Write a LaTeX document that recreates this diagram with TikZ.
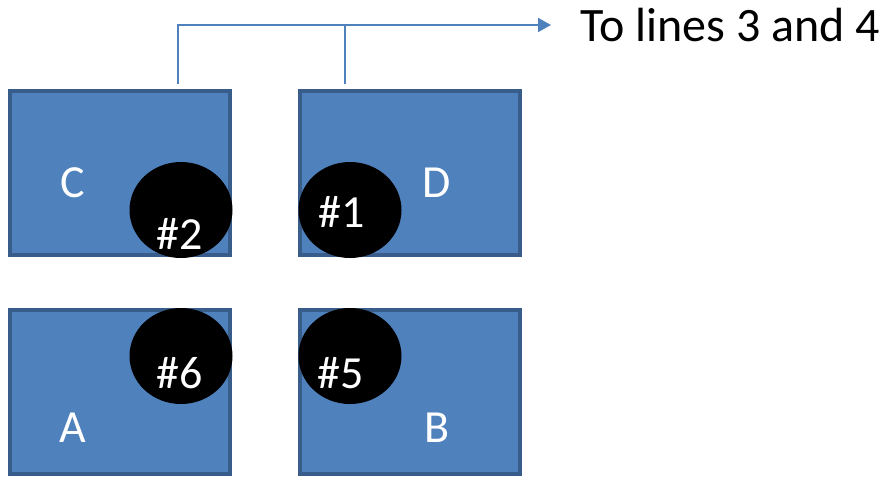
\documentclass[tikz,border=0pt]{standalone}
\usepackage{fontspec}
\setmainfont{Carlito}
\usetikzlibrary{arrows.meta,shapes.geometric}
\definecolor{boxfill}{HTML}{4F81BD}
\definecolor{boxedge}{HTML}{385D8A}
\definecolor{linkblue}{HTML}{4F81BD}
\tikzset{
  cell/.style={rectangle, draw=boxedge, line width=4.5pt, fill=boxfill,
    minimum width=220pt, minimum height=164pt, inner sep=0pt},
  spot/.style={ellipse, fill=black, minimum width=103pt, minimum height=96pt, inner sep=0pt},
  lbl/.style={text=white, font=\fontsize{46}{50}\selectfont, inner sep=0pt},
  feed/.style={draw=linkblue, line width=1.8pt},
}
\begin{document}
\begin{tikzpicture}[x=1pt,y=-1pt]
\useasboundingbox (0,0) rectangle (885,477);
% four cells
\node[cell] (C) at (120,173) {};
\node[cell] (D) at (410,173) {};
\node[cell] (A) at (120,392) {};
\node[cell] (B) at (410,392) {};
% black spots
\node[spot] (s2) at (181,210) {};
\node[spot] (s1) at (350,210) {};
\node[spot] (s6) at (181,356) {};
\node[spot] (s5) at (350,356) {};
% cell letters
\node[lbl] at (73,183) {C};
\node[lbl] at (437,183) {D};
\node[lbl] at (73,428) {A};
\node[lbl] at (437,428) {B};
% spot numbers
\node[lbl] at (180,234) {\#2};
\node[lbl] at (342,212) {\#1};
\node[lbl] at (180,373) {\#6};
\node[lbl] at (341,373) {\#5};
% destination
\node[anchor=west, inner sep=0pt, font=\fontsize{48}{52}\selectfont] (dest) at (580,25) {To lines 3 and 4};
\coordinate (cTop) at (178,84);
\coordinate (dTop) at (345,84);
\coordinate (tip) at (551,25);
\draw[feed, -{Triangle[length=13pt,width=14pt]}] (cTop) |- (tip);
\draw[feed] (dTop) -- (dTop |- tip);
\end{tikzpicture}
\end{document}
